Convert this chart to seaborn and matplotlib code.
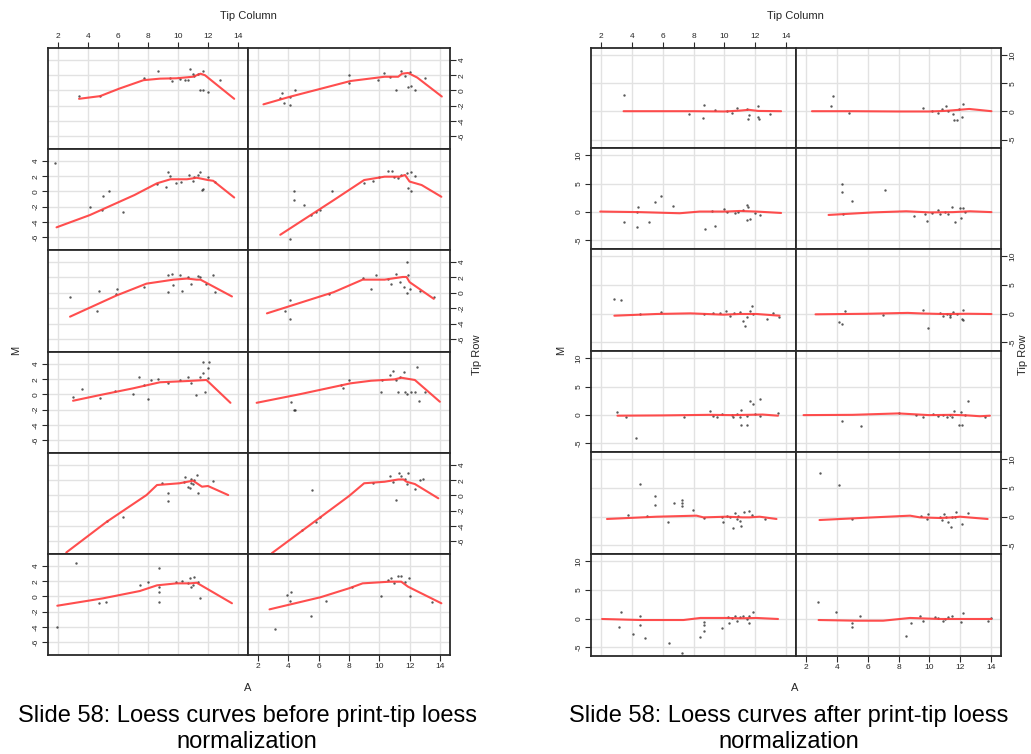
import matplotlib
matplotlib.use("Agg")
import matplotlib.pyplot as plt
import seaborn as sns

# ---------------- data: tick labels / titles ----------------
x_ticks = [2, 4, 6, 8, 10, 12, 14]
pre_y_ticks = [-6, -4, -2, 0, 2, 4]
post_y_ticks = [-5, 0, 5, 10]
caption_pre = ["Slide 58: Loess curves before print-tip loess", "normalization"]
caption_post = ["Slide 58: Loess curves after print-tip loess", "normalization"]

# ---------------- BEFORE normalization (A, M) per tip row/column ----------------
pre_r1c1_line_x = [3.4, 4.8, 6.1, 7.7, 8.8, 9.9, 11.0, 11.5, 11.8, 13.75]
pre_r1c1_line_y = [-1.1, -0.75, 0.25, 1.35, 1.55, 1.6, 1.8, 2.2, 2.0, -1.1]
pre_r1c1_pts_x = [3.4, 4.8, 7.7, 8.7, 9.46, 9.57, 10.13, 10.46, 10.7, 10.8, 11.0, 11.1, 11.35, 11.46, 11.7, 11.7, 12.0, 12.8]
pre_r1c1_pts_y = [-0.74, -0.7, 1.67, 2.5, 1.6, 1.24, 1.46, 1.37, 1.37, 2.78, 2.16, 1.9, 2.16, 0.0, 0.1, 2.5, -0.2, 1.37]

pre_r1c2_line_x = [2.35, 4.1, 8.1, 10.35, 11.25, 11.5, 11.9, 12.5, 14.13]
pre_r1c2_line_y = [-1.83, -0.83, 1.24, 1.8, 1.8, 2.2, 2.3, 1.7, -0.8]
pre_r1c2_pts_x = [3.57, 3.46, 3.68, 4.08, 4.08, 4.46, 8.0, 8.0, 9.9, 10.3, 10.7, 11.13, 11.46, 11.7, 11.9, 12.0, 12.1, 12.35, 13.0]
pre_r1c2_pts_y = [-0.38, -1.04, -1.6, -1.92, -0.83, 0.05, 2.0, 0.93, 1.37, 2.33, 1.72, 0.05, 2.55, 1.9, 0.41, 2.46, 0.58, 0.05, 1.68]

pre_r2c1_line_x = [1.9, 4.13, 7.1, 8.6, 9.5, 10.6, 11.25, 12.0, 12.35, 13.75]
pre_r2c1_line_y = [-4.72, -3.1, -0.47, 1.07, 1.6, 1.6, 1.8, 1.5, 1.4, -0.8]
pre_r2c1_pts_x = [1.8, 4.1, 4.9, 4.97, 5.4, 6.3, 8.6, 9.2, 9.35, 9.5, 9.9, 10.2, 10.75, 10.97, 11.1, 11.35, 11.5, 11.6, 11.7, 12.0, 12.5]
pre_r2c1_pts_y = [3.8, -2.0, -2.4, -0.6, 0.1, -2.7, 1.0, 0.6, 2.55, 2.03, 1.15, 1.28, 2.2, 1.41, 1.94, 2.16, 2.6, 0.2, 0.28, 1.95, 1.3]

pre_r2c2_line_x = [3.46, 7.0, 9.0, 10.35, 11.35, 11.7, 12.0, 12.8, 14.1]
pre_r2c2_line_y = [-5.7, -1.13, 1.5, 1.94, 1.94, 2.16, 1.3, 0.84, -0.7]
pre_r2c2_pts_x = [4.35, 4.35, 5.0, 5.5, 5.8, 6.1, 6.9, 4.1, 9.0, 9.57, 10.0, 10.6, 10.86, 11.0, 11.25, 11.46, 11.8, 11.9, 12.1, 12.35, 12.1]
pre_r2c2_pts_y = [0.1, -1.13, -1.8, -3.1, -2.7, -2.4, 0.1, -6.2, 1.07, 1.41, 1.94, 2.7, 2.7, 1.94, 1.72, 2.16, 2.4, 0.4, 0.1, 2.03, 2.5]

pre_r3c1_line_x = [2.8, 5.9, 7.9, 9.7, 10.6, 11.25, 11.5, 13.6]
pre_r3c1_line_y = [-3.1, -0.34, 1.2, 1.72, 1.86, 1.72, 1.72, -0.47]
pre_r3c1_pts_x = [2.8, 4.7, 4.6, 5.9, 5.84, 7.7, 9.35, 9.57, 9.35, 9.7, 10.13, 10.24, 10.7, 10.9, 11.35, 11.46, 12.35, 12.46, 11.9]
pre_r3c1_pts_y = [-0.5, 0.3, -2.4, 0.45, -0.21, 0.75, 2.3, 2.42, 0.05, 1.0, 2.3, 0.3, 2.0, 1.2, 2.16, 2.07, 2.3, 0.1, 1.1]

pre_r3c2_line_x = [2.58, 7.0, 8.9, 10.35, 11.55, 11.8, 12.0, 13.6]
pre_r3c2_line_y = [-2.67, 0.1, 1.72, 1.72, 2.07, 2.07, 1.4, -0.78]
pre_r3c2_pts_x = [4.1, 3.8, 4.1, 6.7, 8.9, 9.45, 9.8, 10.6, 10.8, 11.1, 11.35, 11.6, 11.8, 11.9, 12.0, 11.8, 12.7, 13.6]
pre_r3c2_pts_y = [-0.9, -2.4, -3.4, -0.2, 1.9, 0.45, 2.3, 1.8, 1.2, 2.5, 1.4, 0.75, 4.0, 2.3, 0.5, 0.0, 0.2, -0.6]

pre_r4c1_line_x = [3.0, 4.8, 7.0, 8.8, 10.6, 11.9, 13.5]
pre_r4c1_line_y = [-0.83, -0.08, 0.8, 1.6, 1.76, 1.9, -1.1]
pre_r4c1_pts_x = [3.0, 3.57, 4.8, 5.8, 7.0, 7.4, 7.7, 8.0, 8.2, 8.7, 9.35, 10.13, 10.7, 10.9, 11.2, 11.46, 11.7, 12.1, 12.0, 11.7, 11.8, 12.0]
pre_r4c1_pts_y = [-0.3, 0.67, -0.43, 0.4, 0.0, 2.25, 1.24, -0.65, 1.9, 2.0, 1.55, 1.9, 2.25, 1.55, -0.08, 2.25, 4.2, 4.2, 3.5, 2.78, 0.36, 2.1]

pre_r4c2_line_x = [1.9, 4.8, 8.1, 9.45, 11.0, 11.45, 12.35, 14.0]
pre_r4c2_line_y = [-1.1, 0.05, 1.46, 1.8, 1.98, 2.2, 1.9, -0.96]
pre_r4c2_pts_x = [4.2, 4.35, 4.45, 7.46, 8.0, 7.6, 10.1, 10.2, 10.7, 10.9, 11.13, 11.25, 11.6, 11.7, 11.8, 12.1, 12.35, 12.5, 12.6, 13.0, 11.35]
pre_r4c2_pts_y = [-0.96, -2.1, -2.1, 1.24, 1.9, 0.8, 0.3, 1.9, 2.55, 3.08, 1.9, 0.35, 3.0, 0.35, 0.0, 0.35, 0.35, 3.6, -0.9, 0.3, 2.33]

pre_r5c1_line_x = [2.55, 5.25, 7.9, 8.6, 10.1, 11.0, 11.6, 12.0, 13.35]
pre_r5c1_line_y = [-7.5, -3.46, 0.05, 1.37, 1.6, 1.94, 1.15, 1.24, 0.05]
pre_r5c1_pts_x = [5.25, 6.35, 8.95, 9.35, 9.35, 10.5, 10.7, 10.9, 11.0, 11.3, 11.35, 10.8, 12.35, 10.4, 10.9, 11.1]
pre_r5c1_pts_y = [-3.3, -2.8, 1.6, 0.36, -0.7, 2.4, 1.15, 2.12, 1.5, 2.7, 0.36, 0.94, 1.94, 1.8, 1.68, 2.0]

pre_r5c2_line_x = [2.9, 8.0, 9.0, 10.35, 11.25, 11.6, 11.8, 12.35, 13.9]
pre_r5c2_line_y = [-7.6, -0.08, 1.6, 1.8, 2.1, 2.1, 1.8, 1.5, -0.38]
pre_r5c2_pts_x = [5.58, 4.9, 5.8, 6.1, 9.6, 10.7, 10.9, 11.1, 11.3, 11.46, 11.7, 11.9, 11.8, 12.7, 12.9, 12.35]
pre_r5c2_pts_y = [0.7, -4.5, -3.5, -2.8, 1.6, 2.5, 1.8, -0.6, 2.9, 2.5, 2.12, 2.9, 1.5, 2.0, 2.2, 0.9]

pre_r6c1_line_x = [1.95, 5.0, 7.45, 8.6, 9.9, 10.8, 11.25, 13.6]
pre_r6c1_line_y = [-1.22, -0.25, 0.71, 1.46, 1.72, 1.72, 1.8, -0.9]
pre_r6c1_pts_x = [3.2, 1.9, 4.7, 5.2, 7.45, 8.0, 8.75, 8.75, 8.75, 8.75, 9.9, 10.3, 10.8, 11.0, 11.1, 11.35, 11.46, 10.7, 10.9]
pre_r6c1_pts_y = [4.4, -4.0, -0.8, -0.7, 1.5, 1.9, 3.7, 1.2, 0.6, -0.7, 1.94, 2.07, 2.4, 1.5, 2.5, 1.94, -0.17, 1.72, 1.28]

pre_r6c2_line_x = [2.75, 6.13, 8.0, 8.9, 10.7, 11.45, 11.9, 14.1]
pre_r6c2_line_y = [-1.7, -0.1, 1.07, 1.72, 1.94, 1.94, 1.28, -0.9]
pre_r6c2_pts_x = [3.9, 4.2, 4.1, 5.5, 3.1, 6.5, 8.2, 10.1, 10.6, 10.8, 11.0, 11.25, 11.46, 11.7, 11.95, 12.0, 13.5]
pre_r6c2_pts_y = [0.2, 0.6, -0.6, -2.6, -4.3, -0.6, 1.28, 0.05, 2.16, 2.46, 1.72, 2.7, 2.7, 1.94, 2.38, 0.05, -0.7]

# ---------------- AFTER normalization ----------------
post_r1c1_line_x = [3.45, 6.0, 8.0, 10.0, 11.0, 11.6, 12.2, 13.7]
post_r1c1_line_y = [0.05, 0.05, 0.05, 0.0, 0.15, 0.3, 0.1, 0.05]
post_r1c1_pts_x = [3.45, 7.7, 8.6, 8.7, 9.4, 10.2, 10.5, 10.85, 11.46, 11.55, 11.6, 12.2, 12.2, 12.28, 12.95]
post_r1c1_pts_y = [2.9, -0.4, -1.1, 1.2, 0.3, 0.0, -0.2, 0.6, 0.37, -1.3, -0.6, 0.95, -1.0, -1.4, -0.5]

post_r1c2_line_x = [2.37, 5.0, 8.0, 10.0, 11.0, 11.5, 12.6, 14.05]
post_r1c2_line_y = [0.05, 0.05, 0.0, 0.0, 0.1, 0.2, 0.45, 0.05]
post_r1c2_pts_x = [3.75, 3.6, 4.8, 9.6, 10.16, 10.6, 10.8, 11.1, 11.24, 11.52, 11.6, 11.78, 11.95, 12.1, 12.2]
post_r1c2_pts_y = [2.8, 0.96, -0.3, 0.66, 0.07, -0.2, 0.37, 0.96, 0.07, -0.52, -1.5, -1.5, 0.37, -1.0, 1.3]

post_r2c1_line_x = [1.93, 4.5, 7.1, 8.4, 10.1, 11.0, 12.1, 13.7]
post_r2c1_line_y = [0.1, 0.0, -0.2, 0.1, 0.1, 0.2, 0.1, -0.15]
post_r2c1_pts_x = [3.45, 4.3, 4.4, 4.3, 5.1, 5.5, 5.9, 6.65, 8.75, 9.4, 9.19, 10.0, 10.16, 10.7, 10.9, 11.24, 11.5, 11.55, 11.45, 11.67, 12.3, 12.0]
post_r2c1_pts_y = [-1.7, -2.7, 0.95, 0.0, -1.8, 1.8, 2.8, 1.0, -2.9, -2.4, 0.2, 0.6, 0.07, -0.2, 0.07, 0.36, 1.2, 0.95, -1.4, -1.27, -0.5, -0.1]

post_r2c2_line_x = [3.45, 6.35, 8.5, 10.05, 11.55, 12.65, 14.05]
post_r2c2_line_y = [-0.5, -0.05, 0.15, -0.05, 0.0, 0.15, 0.0]
post_r2c2_pts_x = [4.3, 4.3, 5.0, 7.1, 4.4, 9.0, 9.74, 9.85, 10.16, 10.6, 10.7, 11.0, 11.24, 11.5, 11.7, 11.98, 12.05, 12.2, 12.3]
post_r2c2_pts_y = [4.9, 3.6, 1.95, 3.9, -0.3, -0.7, -0.34, -1.5, -0.2, 0.35, -0.34, 0.07, -0.34, 0.9, -1.7, 0.65, -1.1, 0.65, 0.07]

post_r3c1_line_x = [2.85, 5.6, 7.8, 9.95, 11.0, 12.1, 13.6]
post_r3c1_line_y = [-0.34, -0.04, 0.07, -0.16, -0.04, -0.04, -0.34]
post_r3c1_pts_x = [2.85, 3.3, 4.5, 5.9, 8.69, 9.3, 9.73, 10.1, 10.38, 10.64, 11.03, 11.25, 11.35, 11.46, 11.67, 11.8, 11.9, 12.8, 13.19, 13.58]
post_r3c1_pts_y = [2.6, 2.4, -0.1, 0.25, -0.1, 0.15, 0.15, 0.55, -0.34, 0.15, 0.24, -1.2, -2.1, -0.64, 0.54, 1.4, -0.04, -0.9, 0.07, -0.64]

post_r3c2_line_x = [2.6, 6.0, 8.6, 9.5, 11.0, 12.5, 14.05]
post_r3c2_line_y = [-0.1, 0.0, 0.15, 0.05, -0.05, 0.0, -0.05]
post_r3c2_pts_x = [4.1, 4.3, 4.5, 7.0, 9.6, 9.95, 10.7, 10.9, 11.13, 11.35, 11.56, 11.78, 12.1, 12.2, 12.2, 11.35]
post_r3c2_pts_y = [-1.5, -1.8, 0.4, -0.3, 0.6, -2.4, 0.07, -0.34, -0.04, -0.64, 0.24, -0.04, -1.0, -1.1, 0.7, -0.16]

post_r4c1_line_x = [3.05, 6.0, 9.0, 10.5, 11.5, 12.5, 13.5]
post_r4c1_line_y = [-0.1, -0.05, 0.05, 0.0, 0.05, 0.1, -0.1]
post_r4c1_pts_x = [3.05, 3.6, 4.25, 7.4, 9.05, 9.3, 9.51, 9.84, 10.48, 10.59, 10.81, 11.03, 11.1, 11.1, 11.5, 11.46, 11.65, 11.9, 12.3, 12.32, 13.5, 12.0]
post_r4c1_pts_y = [0.6, -0.4, -4.0, -0.4, 0.7, -0.16, -0.4, 0.19, 0.01, -0.4, 0.2, -0.4, 0.9, -1.7, -1.7, -0.16, 2.4, 2.0, 2.8, -0.16, 0.42, 0.19]

post_r4c2_line_x = [1.82, 5.0, 8.0, 10.0, 11.5, 12.5, 13.3, 13.95]
post_r4c2_line_y = [0.0, 0.05, 0.3, 0.0, 0.05, -0.05, -0.2, -0.1]
post_r4c2_pts_x = [4.3, 5.55, 8.05, 9.16, 9.6, 10.24, 10.56, 10.9, 11.13, 11.35, 11.6, 11.45, 11.95, 12.1, 12.04, 12.5, 12.3, 13.6]
post_r4c2_pts_y = [-1.0, -1.9, 0.3, 0.01, -0.4, 0.2, -0.16, 0.01, -0.4, 0.01, 0.7, -0.4, -1.7, -1.7, 0.6, 2.5, 0.01, -0.4]

post_r5c1_line_x = [2.37, 5.6, 8.2, 8.65, 10.15, 11.2, 11.65, 12.3, 13.4]
post_r5c1_line_y = [-0.39, 0.01, 0.19, -0.11, 0.01, -0.11, -0.11, 0.01, -0.39]
post_r5c1_pts_x = [3.75, 4.5, 5.0, 5.5, 5.5, 6.35, 6.7, 7.24, 7.24, 7.24, 7.95, 8.69, 9.84, 9.9, 10.16, 10.38, 10.6, 10.7, 10.81, 10.92, 11.03, 11.1, 11.29, 11.6, 11.78, 12.65]
post_r5c1_pts_y = [0.35, 5.8, 0.2, 3.6, 2.0, -1.0, 2.4, 3.0, 2.4, 1.8, 1.2, -0.22, -0.11, -1.0, 0.19, -0.11, -1.9, 0.6, -0.39, 0.19, -0.7, -1.6, 0.77, 1.0, 0.36, -0.39]

post_r5c2_line_x = [2.86, 6.35, 8.75, 9.4, 10.7, 11.55, 12.0, 13.8]
post_r5c2_line_y = [-0.57, -0.11, 0.19, -0.11, -0.22, -0.11, 0.01, -0.39]
post_r5c2_pts_x = [2.86, 4.15, 5.0, 9.45, 9.9, 9.84, 10.7, 10.8, 10.96, 11.09, 11.24, 11.45, 11.4, 11.67, 11.75, 12.1, 12.55]
post_r5c2_pts_y = [7.65, 5.6, -0.4, 0.19, 0.5, -0.39, -0.11, -0.57, 0.49, -0.04, -0.9, -0.11, -1.75, -0.04, 0.8, -1.2, 0.6]

post_r6c1_line_x = [2.05, 4.55, 7.35, 8.45, 10.15, 11.05, 12.1, 13.5]
post_r6c1_line_y = [-0.04, -0.22, -0.22, 0.14, 0.14, 0.08, 0.14, -0.04]
post_r6c1_pts_x = [3.3, 3.15, 4.05, 4.5, 4.5, 4.85, 6.4, 7.25, 8.4, 8.7, 8.7, 8.7, 9.85, 10.3, 10.22, 10.48, 10.7, 10.81, 11.03, 11.24, 11.46, 11.63, 11.6, 11.9]
post_r6c1_pts_y = [1.1, -1.4, -2.6, 0.4, -1.1, -3.3, -4.3, -5.9, -3.2, -2.2, -0.6, -1.1, -1.7, -0.7, 0.37, 0.14, 0.54, -0.34, 0.37, 0.54, -0.04, 0.54, -0.8, 1.1]

post_r6c2_line_x = [2.8, 5.3, 7.0, 8.75, 10.7, 12.0, 14.05]
post_r6c2_line_y = [-0.22, -0.34, -0.34, 0.14, -0.04, -0.04, -0.04]
post_r6c2_pts_x = [2.75, 3.95, 5.0, 5.0, 5.5, 8.5, 8.84, 9.4, 9.6, 10.35, 10.56, 10.9, 11.0, 11.24, 11.45, 12.05, 12.2, 13.8, 14.05]
post_r6c2_pts_y = [2.9, 1.1, -0.8, -1.4, 0.4, -3.0, -0.82, 0.55, -0.34, 0.37, 0.14, -0.34, -0.04, 0.37, 0.54, -0.6, 1.0, -0.4, 0.14]

# ---------------- assemble panels (row-major: r1c1, r1c2, r2c1, ...) ----------------
pre_panels = [
    (pre_r1c1_line_x, pre_r1c1_line_y, pre_r1c1_pts_x, pre_r1c1_pts_y),
    (pre_r1c2_line_x, pre_r1c2_line_y, pre_r1c2_pts_x, pre_r1c2_pts_y),
    (pre_r2c1_line_x, pre_r2c1_line_y, pre_r2c1_pts_x, pre_r2c1_pts_y),
    (pre_r2c2_line_x, pre_r2c2_line_y, pre_r2c2_pts_x, pre_r2c2_pts_y),
    (pre_r3c1_line_x, pre_r3c1_line_y, pre_r3c1_pts_x, pre_r3c1_pts_y),
    (pre_r3c2_line_x, pre_r3c2_line_y, pre_r3c2_pts_x, pre_r3c2_pts_y),
    (pre_r4c1_line_x, pre_r4c1_line_y, pre_r4c1_pts_x, pre_r4c1_pts_y),
    (pre_r4c2_line_x, pre_r4c2_line_y, pre_r4c2_pts_x, pre_r4c2_pts_y),
    (pre_r5c1_line_x, pre_r5c1_line_y, pre_r5c1_pts_x, pre_r5c1_pts_y),
    (pre_r5c2_line_x, pre_r5c2_line_y, pre_r5c2_pts_x, pre_r5c2_pts_y),
    (pre_r6c1_line_x, pre_r6c1_line_y, pre_r6c1_pts_x, pre_r6c1_pts_y),
    (pre_r6c2_line_x, pre_r6c2_line_y, pre_r6c2_pts_x, pre_r6c2_pts_y),
]
post_panels = [
    (post_r1c1_line_x, post_r1c1_line_y, post_r1c1_pts_x, post_r1c1_pts_y),
    (post_r1c2_line_x, post_r1c2_line_y, post_r1c2_pts_x, post_r1c2_pts_y),
    (post_r2c1_line_x, post_r2c1_line_y, post_r2c1_pts_x, post_r2c1_pts_y),
    (post_r2c2_line_x, post_r2c2_line_y, post_r2c2_pts_x, post_r2c2_pts_y),
    (post_r3c1_line_x, post_r3c1_line_y, post_r3c1_pts_x, post_r3c1_pts_y),
    (post_r3c2_line_x, post_r3c2_line_y, post_r3c2_pts_x, post_r3c2_pts_y),
    (post_r4c1_line_x, post_r4c1_line_y, post_r4c1_pts_x, post_r4c1_pts_y),
    (post_r4c2_line_x, post_r4c2_line_y, post_r4c2_pts_x, post_r4c2_pts_y),
    (post_r5c1_line_x, post_r5c1_line_y, post_r5c1_pts_x, post_r5c1_pts_y),
    (post_r5c2_line_x, post_r5c2_line_y, post_r5c2_pts_x, post_r5c2_pts_y),
    (post_r6c1_line_x, post_r6c1_line_y, post_r6c1_pts_x, post_r6c1_pts_y),
    (post_r6c2_line_x, post_r6c2_line_y, post_r6c2_pts_x, post_r6c2_pts_y),
]

# ---------------- styling ----------------
sns.set_style("white")
plt.rcParams["font.family"] = ["Liberation Sans", "DejaVu Sans"]
plt.rcParams["axes.unicode_minus"] = False

W, H = 1031, 754
fig = plt.figure(figsize=(W / 100, H / 100), dpi=100)
fig.patch.set_facecolor("white")

LINE_COLOR = "#ff3b3b"
FRAME = "#2a2a2a"
GRID = "#e2e2e2"


def draw_block(panels, col_edges, row_edges, ylim, yticks, cx):
    for idx, (lx, ly, px, py) in enumerate(panels):
        r, c = divmod(idx, 2)
        x0, x1 = col_edges[c], col_edges[c + 1]
        y0, y1 = row_edges[r], row_edges[r + 1]
        ax = fig.add_axes([x0 / W, 1 - y1 / H, (x1 - x0) / W, (y1 - y0) / H])
        ax.set_facecolor("white")
        ax.set_xlim(1.33, 14.67)
        ax.set_ylim(*ylim)
        ax.set_xticks(x_ticks)
        ax.set_yticks(yticks)
        ax.grid(True, color=GRID, lw=1.0)
        ax.set_axisbelow(True)
        sns.scatterplot(x=px, y=py, ax=ax, s=3, color="#222222", marker="o",
                        linewidth=0, alpha=0.75, zorder=3)
        sns.lineplot(x=lx, y=ly, ax=ax, color=LINE_COLOR, lw=1.5,
                     estimator=None, sort=False, zorder=4, alpha=0.9)
        ax.set_xlabel("")
        ax.set_ylabel("")
        for s in ax.spines.values():
            s.set_color(FRAME)
            s.set_linewidth(1.3)
        ax.tick_params(axis="both", which="both", length=4, width=0.8,
                       color=FRAME, labelsize=6, direction="out", pad=2)
        # x ticks: top of column 1 in top row, bottom of column 2 in bottom row
        top_on = (r == 0 and c == 0)
        bot_on = (r == 5 and c == 1)
        ax.tick_params(axis="x", top=top_on, labeltop=top_on,
                       bottom=bot_on, labelbottom=bot_on)
        # y ticks alternate: right side for rows 1,3,5 ; left side for rows 2,4,6
        right_on = (r % 2 == 0 and c == 1)
        left_on = (r % 2 == 1 and c == 0)
        ax.tick_params(axis="y", left=left_on, labelleft=left_on,
                       right=right_on, labelright=right_on, labelrotation=90)
        for t in ax.get_yticklabels():
            t.set_va("center")

    fig.text(cx / W, 1 - 16 / H, "Tip Column", ha="center", va="center", fontsize=8)
    fig.text(cx / W, 1 - 688 / H, "A", ha="center", va="center", fontsize=8)


draw_block(pre_panels, [48, 248, 450], [48, 149, 250, 352, 453, 554, 655],
           (-7.7, 5.58), pre_y_ticks, 248)
draw_block(post_panels, [591, 796, 1001], [48, 148, 249, 351, 452, 554, 656],
           (-6.5, 11.3), post_y_ticks, 795)

fig.text(16 / W, 1 - 350 / H, "M", rotation=90, ha="center", va="center", fontsize=8)
fig.text(561 / W, 1 - 350 / H, "M", rotation=90, ha="center", va="center", fontsize=8)
fig.text(477 / W, 1 - 355 / H, "Tip Row", rotation=90, ha="center", va="center", fontsize=8)
fig.text(1023 / W, 1 - 355 / H, "Tip Row", rotation=90, ha="center", va="center", fontsize=8)

for cxp, lines in ((247, caption_pre), (789, caption_post)):
    fig.text(cxp / W, 1 - 716 / H, lines[0], ha="center", va="center",
             fontsize=17, color="black")
    fig.text(cxp / W, 1 - 742 / H, lines[1], ha="center", va="center",
             fontsize=17, color="black")

fig.savefig("out.png", dpi=100, facecolor="white")
